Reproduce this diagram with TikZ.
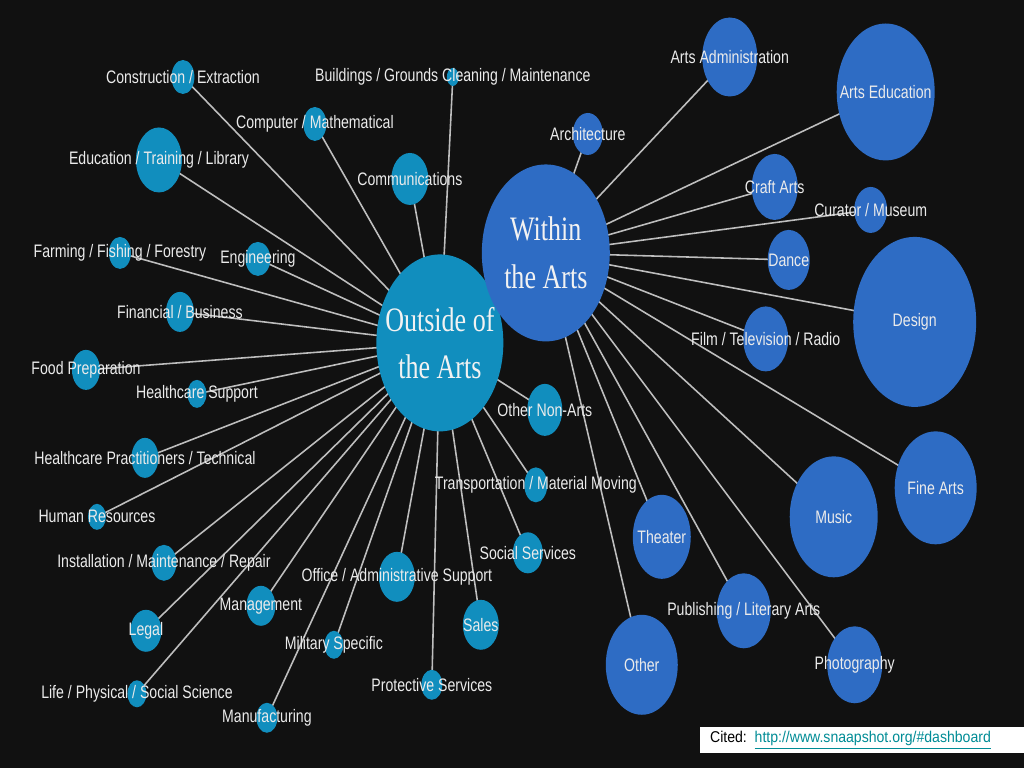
\documentclass[tikz,border=0pt]{standalone}
\usepackage{fontspec}
\usepackage{xcolor}
\usetikzlibrary{shapes.geometric}
\newfontfamily\lblfont[FakeStretch=0.78]{Liberation Sans}
\newfontfamily\hubfont[FakeStretch=0.76]{Liberation Serif}
\newfontfamily\citefont[FakeStretch=0.9]{Liberation Sans}
\definecolor{bgc}{RGB}{17,17,17}
\definecolor{outc}{RGB}{17,142,190}
\definecolor{inc}{RGB}{46,108,196}
\definecolor{spokec}{RGB}{190,190,190}
\definecolor{linkc}{RGB}{0,140,150}
\pgfdeclarelayer{back}
\pgfdeclarelayer{spokes}
\pgfsetlayers{back,spokes,main}

\begin{document}
\begin{tikzpicture}[
  x=0.02cm, y=-0.02cm,
  onode/.style 2 args={
    ellipse, inner sep=0pt, fill=outc,
    minimum width=#1*0.02cm, minimum height=#2*0.02cm
  },
  inode/.style 2 args={
    ellipse, inner sep=0pt, fill=inc,
    minimum width=#1*0.02cm, minimum height=#2*0.02cm
  },
  lbl/.style={font={\lblfont\fontsize{10.3pt}{12pt}\selectfont},
    text=white!92!black, inner sep=0pt},
  hub/.style={font={\hubfont\fontsize{19.5pt}{27pt}\selectfont},
    text=white!95!black, align=center, inner sep=0pt},
  spoke/.style={draw=spokec, line width=0.9pt},
  citebox/.style={fill=white, inner xsep=10*0.02cm, inner ysep=0pt,
    text width=304*0.02cm, minimum height=26*0.02cm, align=left,
    font={\citefont\fontsize{8.9pt}{10pt}\selectfont}},
]

\begin{pgfonlayer}{back}
  \fill[bgc] (0,0) rectangle (1024,768);
\end{pgfonlayer}

% ---- hubs ----
\node[onode={127}{177}, label={[hub]center:Outside of\\the Arts}] (outside) at (440,343) {};
\node[inode={128}{177}, label={[hub]center:Within\\the Arts}] (within) at (546,253) {};

% ---- outside of the arts ----
\node[onode={23}{34}, label={[lbl]center:Construction / Extraction}] (constr) at (183,77) {};
\node[onode={12}{18}, label={[lbl]center:Buildings / Grounds Cleaning / Maintenance}] (build) at (453,77) {};
\node[onode={23}{34}, label={[lbl]center:Computer / Mathematical}] (comp) at (315,124) {};
\node[onode={46}{65}, label={[lbl]center:Education / Training / Library}] (edu) at (159,160) {};
\node[onode={37}{52}, label={[lbl]center:Communications}] (comm) at (410,179) {};
\node[onode={22}{32}, label={[lbl]center:Farming / Fishing / Forestry}] (farm) at (120,253) {};
\node[onode={25}{34}, label={[lbl]center:Engineering}] (eng) at (258,259) {};
\node[onode={28}{40}, label={[lbl]center:Financial / Business}] (fin) at (180,312) {};
\node[onode={28}{40}, label={[lbl]center:Food Preparation}] (food) at (86,370) {};
\node[onode={19}{28}, label={[lbl]center:Healthcare Support}] (hsup) at (197,394) {};
\node[onode={27}{40}, label={[lbl]center:Healthcare Practitioners / Technical}] (hprac) at (145,458) {};
\node[onode={18}{26}, label={[lbl]center:Human Resources}] (hr) at (97,517) {};
\node[onode={25}{36}, label={[lbl]center:Installation / Maintenance / Repair}] (inst) at (164,563) {};
\node[onode={31}{42}, label={[lbl]center:Legal}] (legal) at (146,631) {};
\node[onode={29}{40}, label={[lbl]center:Management}] (mgmt) at (261,606) {};
\node[onode={19}{27}, label={[lbl]center:Life / Physical / Social Science}] (life) at (137,694) {};
\node[onode={21}{30}, label={[lbl]center:Manufacturing}] (manu) at (267,718) {};
\node[onode={19}{28}, label={[lbl]center:Military Specific}] (mil) at (334,645) {};
\node[onode={36}{50}, label={[lbl]center:Office / Administrative Support}] (office) at (397,577) {};
\node[onode={21}{30}, label={[lbl]center:Protective Services}] (prot) at (432,685) {};
\node[onode={36}{50}, label={[lbl]center:Sales}] (sales) at (481,625) {};
\node[onode={30}{41}, label={[lbl]center:Social Services}] (social) at (528,553) {};
\node[onode={23}{35}, label={[lbl]center:Transportation / Material Moving}] (transp) at (536,485) {};
\node[onode={35}{52}, label={[lbl]center:Other Non-Arts}] (othna) at (545,410) {};

% ---- within the arts ----
\node[inode={30}{42}, label={[lbl]center:Architecture}] (arch) at (588,134) {};
\node[inode={55}{79}, label={[lbl]center:Arts Administration}] (admin) at (730,57) {};
\node[inode={98}{137}, label={[lbl]center:Arts Education}] (artsedu) at (886,92) {};
\node[inode={46}{66}, label={[lbl]center:Craft Arts}] (craft) at (775,187) {};
\node[inode={33}{46}, label={[lbl]center:Curator / Museum}] (curator) at (871,210) {};
\node[inode={42}{60}, label={[lbl]center:Dance}] (dance) at (789,260) {};
\node[inode={123}{170}, label={[lbl]center:Design}] (design) at (915,322) {};
\node[inode={45}{65}, label={[lbl]center:Film / Television / Radio}] (film) at (766,339) {};
\node[inode={82}{113}, label={[lbl]center:Fine Arts}] (fine) at (936,488) {};
\node[inode={88}{121}, label={[lbl]center:Music}] (music) at (834,517) {};
\node[inode={58}{84}, label={[lbl]center:Theater}] (theater) at (662,537) {};
\node[inode={54}{75}, label={[lbl]center:Publishing / Literary Arts}] (publ) at (744,611) {};
\node[inode={55}{77}, label={[lbl]center:Photography}] (photo) at (855,665) {};
\node[inode={72}{100}, label={[lbl]center:Other}] (other) at (642,665) {};

% ---- spokes ----
\begin{pgfonlayer}{spokes}
  \foreach \n in {constr,build,comp,edu,comm,farm,eng,fin,food,hsup,hprac,hr,
      inst,legal,mgmt,life,manu,mil,office,prot,sales,social,transp,othna}
    \draw[spoke] (outside.center) -- (\n.center);
  \foreach \n in {arch,admin,artsedu,craft,curator,dance,design,film,fine,
      music,theater,publ,photo,other}
    \draw[spoke] (within.center) -- (\n.center);
\end{pgfonlayer}

% ---- source ----
\node[citebox, anchor=north west] (cited) at (700,727)
  {Cited: \textcolor{linkc}{\underline{http://www.snaapshot.org/\#dashboard}}};

\end{tikzpicture}
\end{document}
